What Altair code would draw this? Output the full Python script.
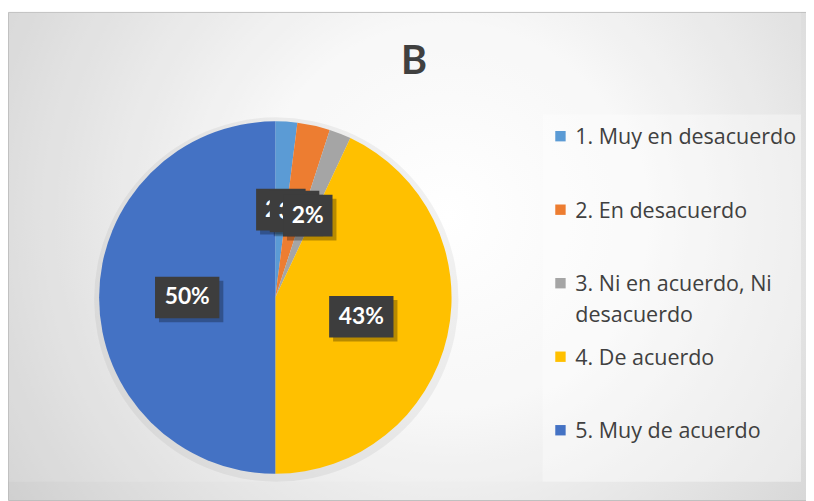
import altair as alt
import pandas as pd

title_text = "B"
categories = [
    "1. Muy en desacuerdo",
    "2. En desacuerdo",
    "3. Ni en acuerdo, Ni desacuerdo",
    "4. De acuerdo",
    "5. Muy de acuerdo",
]
values = [2, 3, 2, 43, 50]
labels = ["2%", "3%", "2%", "43%", "50%"]
colors = ["#5B9BD5", "#ED7D31", "#A5A5A5", "#FFC000", "#4472C4"]

df = pd.DataFrame({"cat": categories, "value": values, "label": labels, "idx": list(range(len(categories)))})

W, H = 806, 493
DX = 0
CX, CY, R = 270 + DX, 290, 178
LR = 89
FONT = "Lato"
LFONT = "Open Sans"

color_scale = alt.Scale(domain=categories, range=colors)
one = pd.DataFrame({"a": [0]})

bg = alt.Chart(one).mark_rect(
    color={
        "gradient": "radial",
        "x1": 0.55, "y1": 0.45, "r1": 0,
        "x2": 0.55, "y2": 0.45, "r2": 0.8,
        "stops": [
            {"offset": 0, "color": "#ffffff"},
            {"offset": 0.3, "color": "#f7f7f7"},
            {"offset": 1, "color": "#c2c2c2"},
        ],
    },
    stroke="#bdbdbd", strokeWidth=1,
).encode(x=alt.value(0.5), x2=alt.value(W + 2), y=alt.value(2), y2=alt.value(H + 2))

inner = alt.Chart(one).mark_rect(color="white", opacity=0.12).encode(
    x=alt.value(0.5), x2=alt.value(801 + DX), y=alt.value(2), y2=alt.value(476))

legend_box = alt.Chart(one).mark_rect(color="white", opacity=0.35).encode(
    x=alt.value(540 + DX), x2=alt.value(801 + DX), y=alt.value(105), y2=alt.value(476))

pie_shadow = alt.Chart(one).mark_arc(
    radius=0, outerRadius=R + 6, theta=0, theta2=6.2832, color="#000000", opacity=0.05
).encode(x=alt.value(CX + 1), y=alt.value(CY + 2))

pie = alt.Chart(df).mark_arc(outerRadius=R).encode(
    theta=alt.Theta("value:Q", stack=True),
    color=alt.Color("cat:N", scale=color_scale, legend=None),
    order=alt.Order("idx:Q"),
    x=alt.value(CX),
    y=alt.value(CY),
)

lab = alt.Chart(df).transform_joinaggregate(
    total="sum(value)"
).transform_window(
    cum="sum(value)", sort=[alt.SortField("idx")], frame=[None, 0]
).transform_calculate(
    mid="(datum.cum - datum.value/2)/datum.total*2*PI"
).transform_calculate(
    lx=f"{CX} + {LR}*sin(datum.mid)",
    ly=f"{CY} - {LR}*cos(datum.mid)",
    bw="15*length(datum.label)+20",
).transform_calculate(
    bx1="datum.lx - datum.bw/2",
    bx2="datum.lx + datum.bw/2",
    by1="datum.ly - 21",
    by2="datum.ly + 21",
)

label_layers = []
for i in range(len(categories)):
    li = lab.transform_filter(f"datum.idx == {i}")
    enc = dict(
        x=alt.X("bx1:Q", scale=None),
        x2="bx2:Q",
        y=alt.Y("by1:Q", scale=None),
        y2="by2:Q",
    )
    label_layers.append(li.mark_rect(color="#000000", opacity=0.28, xOffset=4, x2Offset=4, yOffset=4, y2Offset=4).encode(**enc))
    label_layers.append(li.mark_rect(color="#3d3d3d").encode(**enc))
    label_layers.append(
        li.mark_text(color="white", font=FONT, fontSize=23, fontWeight="bold", align="center", baseline="middle").encode(
            x=alt.X("lx:Q", scale=None), y=alt.Y("ly:Q", scale=None), text="label:N"
        )
    )

title = alt.Chart(pd.DataFrame({"t": [title_text]})).mark_text(
    font=FONT, fontSize=40, fontWeight="bold", color="#404040", align="center", baseline="middle"
).encode(x=alt.value(410 + DX), y=alt.value(52), text="t:N")

ly_scale = alt.Scale(domain=categories, range=[127, 424], padding=0)
leg_sq = alt.Chart(df).mark_square(size=110, opacity=1).encode(
    x=alt.value(558 + DX),
    y=alt.Y("cat:N", scale=ly_scale, axis=None),
    color=alt.Color("cat:N", scale=color_scale, legend=None),
)
leg_tx = alt.Chart(df).transform_calculate(
    lines="indexof(datum.cat, ', Ni ') > 0 ? [slice(datum.cat, 0, indexof(datum.cat, ', Ni ') + 4), slice(datum.cat, indexof(datum.cat, ', Ni ') + 5)] : datum.cat"
).mark_text(
    font=LFONT, fontSize=21.7, color="#404040", align="left", baseline="alphabetic", dy=8, lineHeight=31
).encode(
    x=alt.value(573 + DX),
    y=alt.Y("cat:N", scale=ly_scale, axis=None),
    text="lines:N",
)

chart = alt.layer(
    bg, inner, legend_box, pie_shadow, pie, *label_layers, title, leg_sq, leg_tx
).resolve_scale(
    x="independent", y="independent"
).properties(
    width=W, height=H, autosize=alt.AutoSizeParams(type="none"), padding=0, background="white"
).configure_view(stroke=None)

chart.save("out.html", embed_options={"renderer": "svg", "actions": False})
